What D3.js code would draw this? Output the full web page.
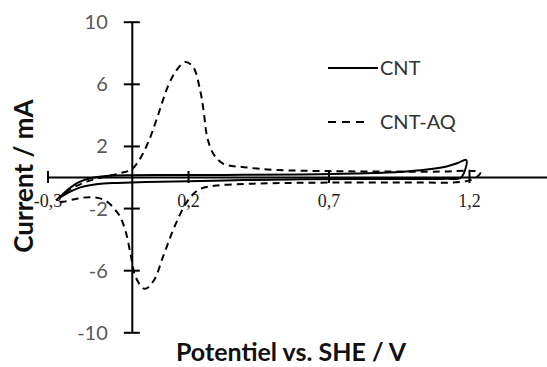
<!DOCTYPE html>
<html><head><meta charset="utf-8">
<script src="https://cdn.jsdelivr.net/npm/d3@7"></script>
<style>
html,body{margin:0;padding:0;background:#fff;}
svg{display:block;}
</style></head>
<body>
<svg id="chart" width="547" height="367"></svg>
<script>
// ---- data ----
const xTicks = [-0.3, 0.2, 0.7, 1.2];
const xTickLabels = ["-0,3", "0,2", "0,7", "1,2"];
const yTicks = [10, 6, 2, -2, -6, -10];
const seriesNames = ["CNT", "CNT-AQ"];

const cntV = [-0.26, -0.23, -0.19, -0.14, -0.08, 0.0, 0.1, 0.2, 0.4, 0.6, 0.8, 0.95, 1.05, 1.12, 1.16, 1.19, 1.185, 1.17, 1.12, 1.0, 0.8, 0.6, 0.4, 0.2, 0.05, -0.05, -0.12, -0.18, -0.22, -0.26];
const cntI = [-1.35, -0.85, -0.35, -0.05, 0.08, 0.12, 0.13, 0.13, 0.14, 0.16, 0.22, 0.32, 0.48, 0.68, 0.9, 1.1, 0.4, -0.05, -0.12, -0.13, -0.13, -0.15, -0.2, -0.28, -0.32, -0.38, -0.45, -0.65, -0.95, -1.35];

const aqV = [-0.27, -0.22, -0.16, -0.1, -0.04, 0.0, 0.03, 0.06, 0.09, 0.13, 0.16, 0.19, 0.218, 0.243, 0.256, 0.268, 0.29, 0.326, 0.40, 0.52, 0.7, 0.9, 1.1, 1.2, 1.24,
             1.22, 1.17, 1.0, 0.7, 0.5, 0.4, 0.3, 0.24, 0.2, 0.152, 0.114, 0.077, 0.046, 0.015, -0.004, -0.022, -0.047, -0.096, -0.146, -0.196, -0.246, -0.27];
const aqI = [-1.5, -0.8, -0.3, 0.0, 0.25, 0.5, 1.2, 2.3, 3.8, 5.9, 6.9, 7.4, 7.1, 5.6, 4.2, 2.6, 1.5, 0.85, 0.63, 0.45, 0.38, 0.35, 0.35, 0.4, 0.3,
             -0.1, -0.32, -0.35, -0.36, -0.4, -0.45, -0.55, -0.8, -1.5, -3.2, -5.0, -6.7, -7.2, -6.5, -5.0, -3.5, -2.4, -1.5, -1.3, -1.4, -1.6, -1.6];

// ---- chart ----
const svg = d3.select("#chart");
const x = d3.scaleLinear().domain([-0.3, 1.2]).range([47.5, 469]);
const y = d3.scaleLinear().domain([-10, 10]).range([332.3, 21.7]);
const ink = "#000";

// x axis (crosses at y=0)
const xAxisScale = x.copy().domain([-0.3, 1.7]).range([x(-0.3), x(1.7)]);
const gx = svg.append("g").attr("transform", `translate(0,${y(0)})`)
  .call(d3.axisBottom(xAxisScale).tickValues(xTicks).tickSizeOuter(0)
        .tickFormat((d, i) => xTickLabels[i]));
gx.select(".domain").attr("stroke", ink).attr("stroke-width", 2);
gx.selectAll(".tick line").attr("y1", -6).attr("y2", 6).attr("stroke", ink).attr("stroke-width", 2);
gx.selectAll(".tick text").attr("y", 24).attr("dy", "0.35em")
  .attr("font-family", "'Liberation Serif', serif").attr("font-size", 18).attr("fill", "#222");

// y axis (crosses at x=0)
const gy = svg.append("g").attr("transform", `translate(${x(0)},0)`)
  .call(d3.axisLeft(y).tickValues(yTicks).tickSizeOuter(0).tickFormat(d3.format("d")));
gy.select(".domain").attr("stroke", ink).attr("stroke-width", 2);
gy.selectAll(".tick line").attr("x1", -8).attr("x2", 8).attr("stroke", ink).attr("stroke-width", 2);
gy.selectAll(".tick text").attr("x", -24).attr("dy", "0.35em")
  .attr("font-family", "Lato, sans-serif").attr("font-size", 20).attr("fill", "#595959")
  .text(d => d < 0 ? "-" + Math.abs(d) : d);

// curves
const line = d3.line().x(d => x(d[0])).y(d => y(d[1])).curve(d3.curveCatmullRom.alpha(0.5));
const cnt = cntV.map((v, i) => [v, cntI[i]]);
const aq = aqV.map((v, i) => [v, aqI[i]]);
svg.append("path").attr("d", line(aq)).attr("fill", "none").attr("stroke", ink)
  .attr("stroke-width", 2).attr("stroke-dasharray", "7,5");
svg.append("path").attr("d", line(cnt)).attr("fill", "none").attr("stroke", ink)
  .attr("stroke-width", 2);

// legend
const legend = svg.append("g").attr("font-family", "Lato, sans-serif").attr("font-size", 20).attr("fill", "#333");
const legY = [68, 122];
const legX2 = [378, 368];
const legDash = [null, "8,6"];
seriesNames.forEach((name, i) => {
  legend.append("line").attr("x1", 328).attr("x2", legX2[i]).attr("y1", legY[i]).attr("y2", legY[i])
    .attr("stroke", ink).attr("stroke-width", 2).attr("stroke-dasharray", legDash[i]);
  legend.append("text").attr("x", 380).attr("y", legY[i]).attr("dy", "0.35em").text(name);
});

// axis titles
svg.append("text").attr("transform", "translate(33,176) rotate(-90)").attr("text-anchor", "middle")
  .attr("font-family", "Lato, sans-serif").attr("font-weight", "bold").attr("font-size", 26).attr("fill", "#111")
  .text("Current / mA");
svg.append("text").attr("x", 291).attr("y", 361).attr("text-anchor", "middle")
  .attr("font-family", "Lato, sans-serif").attr("font-weight", "bold").attr("font-size", 25).attr("fill", "#111")
  .text("Potentiel vs. SHE / V");
</script>
</body></html>
